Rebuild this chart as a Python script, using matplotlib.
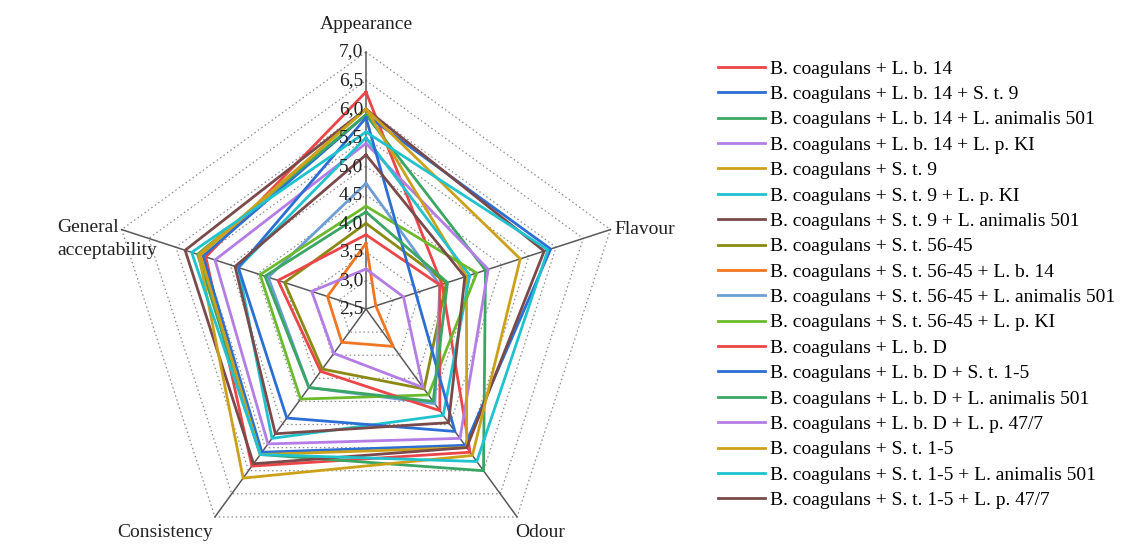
import numpy as np
import matplotlib
matplotlib.use("Agg")
import matplotlib.pyplot as plt

categories = ["Appearance", "Flavour", "Odour", "Consistency", "General\nacceptability"]

series_names = [
    "B. coagulans + L. b. 14",
    "B. coagulans + L. b. 14 + S. t. 9",
    "B. coagulans + L. b. 14 + L. animalis 501",
    "B. coagulans + L. b. 14 + L. p. KI",
    "B. coagulans + S. t. 9",
    "B. coagulans + S. t. 9 + L. p. KI",
    "B. coagulans + S. t. 9 + L. animalis 501",
    "B. coagulans + S. t. 56-45",
    "B. coagulans + S. t. 56-45 + L. b. 14",
    "B. coagulans + S. t. 56-45 + L. animalis 501",
    "B. coagulans + S. t. 56-45 + L. p. KI",
    "B. coagulans + L. b. D",
    "B. coagulans + L. b. D + S. t. 1-5",
    "B. coagulans + L. b. D + L. animalis 501",
    "B. coagulans + L. b. D + L. p. 47/7",
    "B. coagulans + S. t. 1-5",
    "B. coagulans + S. t. 1-5 + L. animalis 501",
    "B. coagulans + S. t. 1-5 + L. p. 47/7",
]

# values: Appearance, Flavour, Odour, Consistency, General acceptability
s01 = [6.30, 3.90, 5.60, 5.90, 5.45]
s02 = [5.90, 5.90, 5.45, 5.60, 5.50]
s03 = [5.90, 4.70, 6.00, 5.65, 5.60]
s04 = [5.40, 4.75, 5.30, 5.42, 5.28]
s05 = [6.00, 4.35, 5.50, 5.65, 5.55]
s06 = [5.50, 4.41, 4.80, 5.30, 4.85]
s07 = [6.00, 5.78, 5.50, 5.85, 5.83]
s08 = [4.00, 3.98, 4.23, 3.80, 4.00]
s09 = [3.65, 2.68, 3.31, 3.22, 3.21]
s10 = [4.70, 3.86, 4.55, 4.20, 4.30]
s11 = [4.30, 4.54, 4.36, 4.45, 4.45]
s12 = [3.80, 3.86, 4.70, 3.85, 4.12]
s13 = [5.85, np.nan, 5.15, 4.86, 4.85]
s14 = [4.20, 4.00, 4.50, 4.20, 4.36]
s15 = [3.20, 3.19, 4.20, 3.46, 3.50]
s16 = [6.00, 5.34, 5.67, 6.16, 5.58]
s17 = [5.60, 5.85, 5.80, 5.65, 5.71]
s18 = [5.20, 4.32, 4.96, 5.20, 4.91]
series_values = [s01, s02, s03, s04, s05, s06, s07, s08, s09,
                 s10, s11, s12, s13, s14, s15, s16, s17, s18]

colors = ["#EC4548", "#2C6FD4", "#3AA663", "#B47DE6", "#CCA11A", "#20C2CE",
          "#7A4A4A", "#8A8A12", "#F27522", "#6C9DD5", "#6BBA2C",
          "#EC4548", "#2C6FD4", "#3AA663", "#B47DE6", "#CCA11A", "#20C2CE",
          "#7A4A4A"]

r_ticks = [2.5, 3.0, 3.5, 4.0, 4.5, 5.0, 5.5, 6.0, 6.5, 7.0]
r_labels = ["2,5", "3,0", "3,5", "4,0", "4,5", "5,0", "5,5", "6,0", "6,5", "7,0"]
r_min, r_max = 2.5, 7.0

plt.rcParams["font.family"] = ["Liberation Serif", "DejaVu Serif"]

W, H = 1130, 544
fig = plt.figure(figsize=(W / 100, H / 100), dpi=100)
cx, cy, R = 366, 309, 257
ax = fig.add_axes([(cx - R) / W, 1 - (cy + R) / H, 2 * R / W, 2 * R / H],
                  projection="polar")
ax.set_theta_zero_location("N")
ax.set_theta_direction(-1)
ax.set_ylim(r_min, r_max)
ax.grid(False)
ax.set_xticks([])
ax.set_yticks([])
ax.spines["polar"].set_visible(False)
ax.patch.set_visible(False)

n = len(categories)
angles = np.arange(n) * 2 * np.pi / n

# dotted pentagon rings
for r in r_ticks[1:]:
    ax.plot(np.append(angles, angles[0]), [r] * (n + 1), linestyle=(0, (1.2, 2.2)),
            color="#8c8c8c", lw=0.9, clip_on=False, zorder=1)
# spokes
for a in angles:
    ax.plot([a, a], [r_min, r_max], color="#595959", lw=1.1, clip_on=False, zorder=2)

# series
handles = []
for vals, col, name in zip(series_values, colors, series_names):
    v = np.array(vals, dtype=float)
    mask = ~np.isnan(v)
    th = angles[mask]
    rv = v[mask]
    th = np.append(th, th[0])
    rv = np.append(rv, rv[0])
    h, = ax.plot(th, rv, color=col, lw=2.0, label=name, clip_on=False, zorder=3)
    handles.append(h)

# radial tick labels along the top axis
for r, lab in zip(r_ticks, r_labels):
    ax.annotate(lab, xy=(0, r), xytext=(-2, 0), textcoords="offset points",
                ha="right", va="center", fontsize=14, color="#222222", zorder=4)

# category labels (offsets in points from each axis end)
offsets = [(0, 14, "center", "bottom"), (3, 0, "left", "center"),
           (17, -5, "center", "top"), (-36, -5, "center", "top"),
           (-46, -7, "left", "center")]
for a, cat, (dx, dy, ha, va) in zip(angles, categories, offsets):
    ax.annotate(cat, xy=(a, r_max), xytext=(dx, dy), textcoords="offset points",
                ha=ha, va=va, fontsize=14, color="#222222",
                multialignment="left", linespacing=1.45)

fig.legend(handles=handles, loc="upper left", bbox_to_anchor=(718 / W, 1 - 60 / H),
           frameon=False, fontsize=14, handlelength=2.4, handletextpad=0.3,
           labelspacing=0.40, borderpad=0, borderaxespad=0)

fig.savefig("out.png", dpi=100)
